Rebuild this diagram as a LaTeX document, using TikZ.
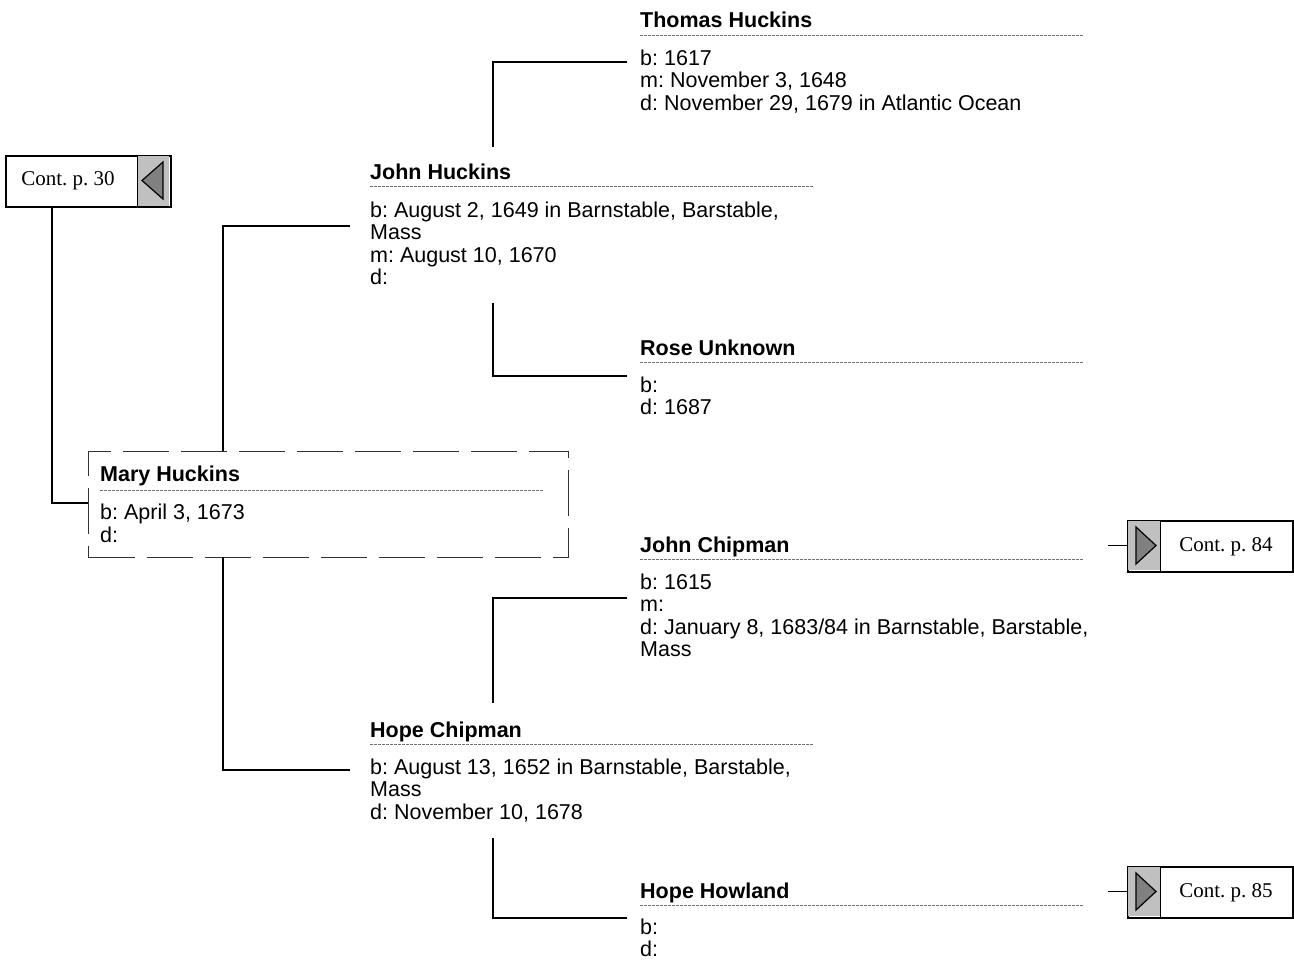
\documentclass[tikz,border=0pt]{standalone}
\usepackage{fontspec}
\setmainfont{Liberation Sans}
\newfontfamily\contfont{Liberation Serif}
\definecolor{boxgray}{HTML}{C0C0C0}
\definecolor{trigray}{HTML}{808080}
\definecolor{rulegray}{HTML}{707070}
\frenchspacing
\begin{document}
\frenchspacing
\begin{tikzpicture}[x=1pt,y=-1pt,
  pname/.style={anchor=base west, inner sep=0pt, font=\fontsize{21.5}{22.5}\selectfont\bfseries},
  pbody/.style={anchor=base west, inner sep=0pt, align=left, font=\fontsize{21.5}{22.5}\selectfont\frenchspacing},
  sepline/.style={draw=rulegray, line width=0.9pt, dash pattern=on 2.5pt off 1.5pt},
  conn/.style={draw=black, line width=1.5pt},
  marybox/.style={draw=black!80, line width=1.2pt, dash pattern=on 46pt off 12pt, minimum width=480pt, minimum height=106pt, inner sep=0pt, anchor=north west},
  contbox/.style={draw=black, line width=2pt, fill=white, minimum width=165pt, minimum height=51pt, inner sep=0pt, anchor=north west},
  conttext/.style={font=\contfont\fontsize{21}{22}\selectfont, inner sep=0pt},
  tri/.style={draw=black, line width=1.2pt, fill=trigray}
]
\useasboundingbox (0,0) rectangle (1294,962);

% ---------- person blocks (body nodes anchored at the base of their last line) ----------
% Thomas Huckins
\node[pname] (thomasN) at (640,27) {Thomas Huckins};
\draw[sepline] (640,35) -- (1083,35);
\node[pbody] (thomasB) at (640,110) {b: 1617\\m: November 3, 1648\\d: November 29, 1679 in Atlantic Ocean};

% John Huckins
\node[pname] (johnhN) at (370,179) {John Huckins};
\draw[sepline] (370,186) -- (813,186);
\node[pbody] (johnhB) at (370,284.5) {b: August 2, 1649 in Barnstable, Barstable,\\Mass\\m: August 10, 1670\\d:};

% Rose Unknown
\node[pname] (roseN) at (640,355) {Rose Unknown};
\draw[sepline] (640,362) -- (1083,362);
\node[pbody] (roseB) at (640,414.5) {b:\\d: 1687};

% Mary Huckins
\node[marybox] (mary) at (88,451) {};
\node[pname] (maryN) at (100,481) {Mary Huckins};
\draw[sepline] (100,490) -- (543,490);
\node[pbody] (maryB) at (100,542) {b: April 3, 1673\\d:};

% John Chipman
\node[pname] (johncN) at (640,552) {John Chipman};
\draw[sepline] (640,559) -- (1083,559);
\node[pbody] (johncB) at (640,656.5) {b: 1615\\m:\\d: January 8, 1683/84 in Barnstable, Barstable,\\Mass};

% Hope Chipman
\node[pname] (hopecN) at (370,737) {Hope Chipman};
\draw[sepline] (370,744) -- (813,744);
\node[pbody] (hopecB) at (370,819) {b: August 13, 1652 in Barnstable, Barstable,\\Mass\\d: November 10, 1678};

% Hope Howland
\node[pname] (hopehN) at (640,898) {Hope Howland};
\draw[sepline] (640,905) -- (1083,905);
\node[pbody] (hopehB) at (640,956.5) {b:\\d:};

% ---------- continuation boxes ----------
\node[contbox] (c30) at (5,155) {};
\fill[boxgray] (137,156) rectangle (169,206);
\draw[black, line width=1pt] (137,155) -- (137,206);
\draw[tri] (142,180.5) -- (163,162) -- (163,199) -- cycle;
\node[conttext] (c30t) at (68,181) {Cont. p. 30};

\node[contbox] (c84) at (1127,520) {};
\fill[boxgray] (1128,521) rectangle (1160,570);
\draw[black, line width=1pt] (1160,520) -- (1160,571);
\draw[tri] (1136,527) -- (1156,545.5) -- (1136,564) -- cycle;
\node[conttext] (c84t) at (1226,547) {Cont. p. 84};

\node[contbox] (c85) at (1127,866) {};
\fill[boxgray] (1128,867) rectangle (1160,916);
\draw[black, line width=1pt] (1160,866) -- (1160,917);
\draw[tri] (1136,873) -- (1156,891.5) -- (1136,910) -- cycle;
\node[conttext] (c85t) at (1226,893) {Cont. p. 85};

% ---------- connector endpoints ----------
\coordinate (thomasIn) at (627,62);
\coordinate (johnhTop) at (493,147);
\coordinate (johnhBot) at (493,303);
\coordinate (roseIn) at (627,376);
\coordinate (johnhIn) at (350,226);
\coordinate (maryTop) at (223,451);
\coordinate (maryBot) at (223,557);
\coordinate (hopecIn) at (350,770);
\coordinate (johncIn) at (627,598);
\coordinate (hopecTop) at (493,703);
\coordinate (hopecBot) at (493,838);
\coordinate (hopehIn) at (627,918);
\coordinate (c30Bot) at (52,207);
\coordinate (maryLeft) at (88,503);
\coordinate (c84Line) at (1108,545.5);
\coordinate (c85Line) at (1108,891.5);

% ---------- connectors ----------
\draw[conn] (thomasIn) -| (johnhTop);
\draw[conn] (johnhBot) |- (roseIn);
\draw[conn] (maryTop) |- (johnhIn);
\draw[conn] (maryBot) |- (hopecIn);
\draw[conn] (johncIn) -| (hopecTop);
\draw[conn] (hopecBot) |- (hopehIn);
\draw[conn] (c30Bot) |- (maryLeft);
\draw[conn] (c84Line) -- (c84.west |- c84Line);
\draw[conn] (c85Line) -- (c85.west |- c85Line);
\end{tikzpicture}
\end{document}
